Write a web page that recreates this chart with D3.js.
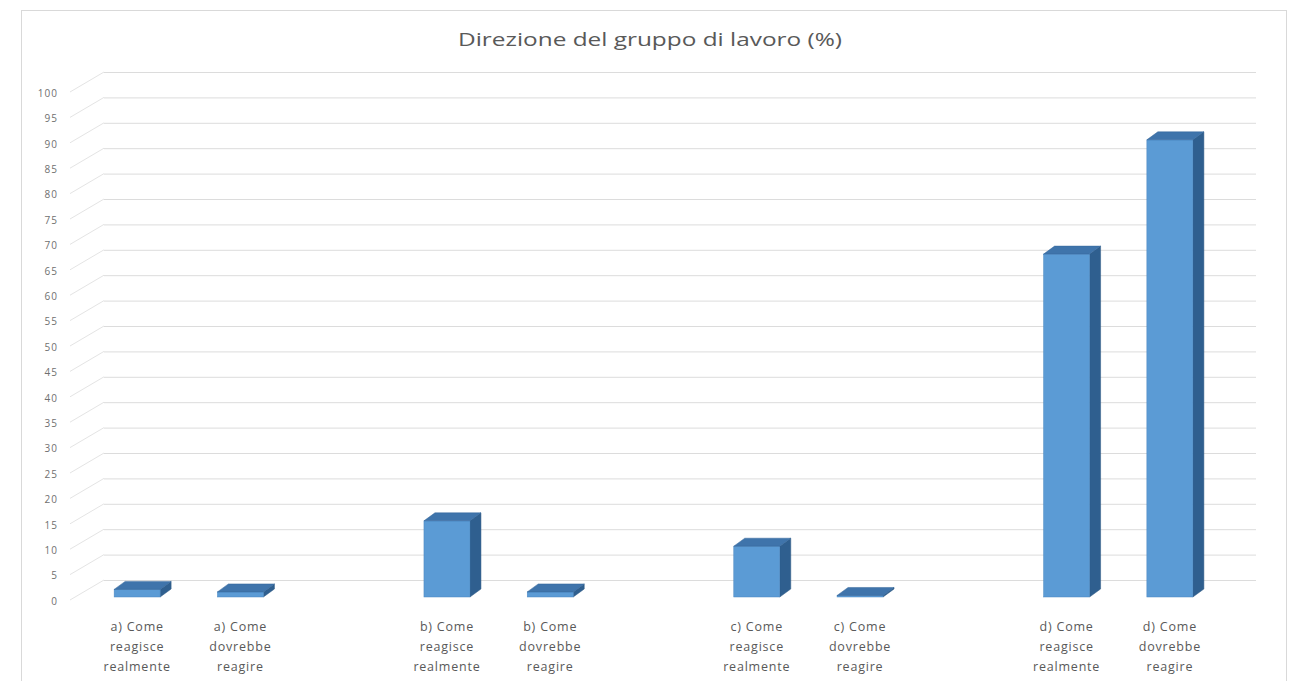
<!DOCTYPE html>
<html>
<head>
<meta charset="utf-8">
<script src="https://cdn.jsdelivr.net/npm/d3@7"></script>
<style>
  html, body { margin: 0; padding: 0; background: #ffffff; }
  svg { display: block; }
</style>
</head>
<body>
<svg id="chart" width="1295" height="681"></svg>
<script>
// ---- data ----
const title = "Direzione del gruppo di lavoro (%)";
const categories = [
  "a) Come reagisce realmente",
  "a) Come dovrebbe reagire",
  "",
  "b) Come reagisce realmente",
  "b) Come dovrebbe reagire",
  "",
  "c) Come reagisce realmente",
  "c) Come dovrebbe reagire",
  "",
  "d) Come reagisce realmente",
  "d) Come dovrebbe reagire"
];
const values = [1.5, 1, null, 15, 1, null, 10, 0.3, null, 67.5, 90];
const yTicks = [0, 5, 10, 15, 20, 25, 30, 35, 40, 45, 50, 55, 60, 65, 70, 75, 80, 85, 90, 95, 100];

// ---- layout ----
const svg = d3.select("#chart");
const front = { left: 85.5, right: 1221.5, bottom: 597, top: 89 };
const wall = { dx: 34, dy: -17, right: 1256 };
const bar3d = { dx: 11, dy: -8 };
const barW = 46;
const FONT = "'Open Sans', 'Liberation Sans', sans-serif";

const x = d3.scaleBand()
  .domain(d3.range(categories.length))
  .range([front.left, front.right])
  .paddingInner(0).paddingOuter(0);

const y = d3.scaleLinear().domain([0, 100]).range([front.bottom, front.top]);

// chart border
svg.append("rect")
  .attr("x", 21.5).attr("y", 10.5)
  .attr("width", 1265).attr("height", 700)
  .attr("fill", "none").attr("stroke", "#d9d9d9").attr("stroke-width", 1);

// title
svg.append("text")
  .attr("x", 650).attr("y", 46)
  .attr("text-anchor", "middle")
  .attr("font-family", FONT)
  .attr("font-size", 18)
  .attr("fill", "#595959")
  .attr("textLength", 384)
  .attr("lengthAdjust", "spacingAndGlyphs")
  .text(title);

// gridlines: side-wall diagonal + back wall horizontal
const grid = svg.append("g").attr("class", "grid");
const wallX0 = 70;
yTicks.forEach(v => {
  const yf = y(v) + 3;
  const yb = y(v) + wall.dy;
  grid.append("line")
    .attr("x1", wallX0).attr("y1", yf)
    .attr("x2", wallX0 + wall.dx).attr("y2", yb)
    .attr("stroke", "#e4e4e4").attr("stroke-width", 1);
  grid.append("line")
    .attr("x1", wallX0 + wall.dx).attr("y1", yb + 0.5)
    .attr("x2", wall.right).attr("y2", yb + 0.5)
    .attr("stroke", "#dcdcdc").attr("stroke-width", 1);
});

// y axis tick labels
const yAxis = d3.axisLeft(y).tickValues(yTicks).tickSize(0).tickPadding(0);
const yAxisG = svg.append("g")
  .attr("transform", `translate(58,4)`)
  .call(yAxis);
yAxisG.select(".domain").remove();
yAxisG.selectAll("text")
  .attr("font-family", FONT)
  .attr("font-size", 10)
  .attr("letter-spacing", 1)
  .attr("fill", "#6f6f6f");

// bars (3D)
const bars = svg.append("g").attr("class", "bars");
values.forEach((v, i) => {
  if (v === null) return;
  const x0 = x(i) + (x.bandwidth() - barW) / 2;
  const x1 = x0 + barW;
  const yt = y(v);
  const yb = y(0);
  const dx = bar3d.dx, dy = bar3d.dy;
  bars.append("path")
    .attr("d", `M${x1},${yt} L${x1 + dx},${yt + dy} L${x1 + dx},${yb + dy} L${x1},${yb} Z`)
    .attr("fill", "#2f5f8f").attr("stroke", "#2a5680").attr("stroke-width", 0.5);
  bars.append("rect")
    .attr("x", x0).attr("y", yt)
    .attr("width", barW).attr("height", Math.max(0, yb - yt))
    .attr("fill", "#5b9bd5").attr("stroke", "#4b87c0").attr("stroke-width", 0.5);
  bars.append("path")
    .attr("d", `M${x0},${yt} L${x0 + dx},${yt + dy} L${x1 + dx},${yt + dy} L${x1},${yt} Z`)
    .attr("fill", "#3f74ab").attr("stroke", "#35679b").attr("stroke-width", 0.5);
});

// x axis category labels
const xAxis = d3.axisBottom(x).tickSize(0).tickFormat(() => "");
const xAxisG = svg.append("g")
  .attr("transform", `translate(0,${front.bottom})`)
  .call(xAxis);
xAxisG.select(".domain").remove();
xAxisG.selectAll(".tick").each(function(i) {
  const label = categories[i];
  if (!label) return;
  const words = label.split(" ");
  const lines = [words.slice(0, 2).join(" "), ...words.slice(2)];
  const t = d3.select(this).select("text")
    .attr("font-family", FONT)
    .attr("font-size", 12.5)
    .attr("letter-spacing", 0.8)
    .attr("fill", "#595959")
    .attr("text-anchor", "middle")
    .attr("y", 0).attr("dy", 0);
  lines.forEach((ln, k) => {
    t.append("tspan").attr("x", 0).attr("y", 34 + k * 20).text(ln);
  });
});
</script>
</body>
</html>
